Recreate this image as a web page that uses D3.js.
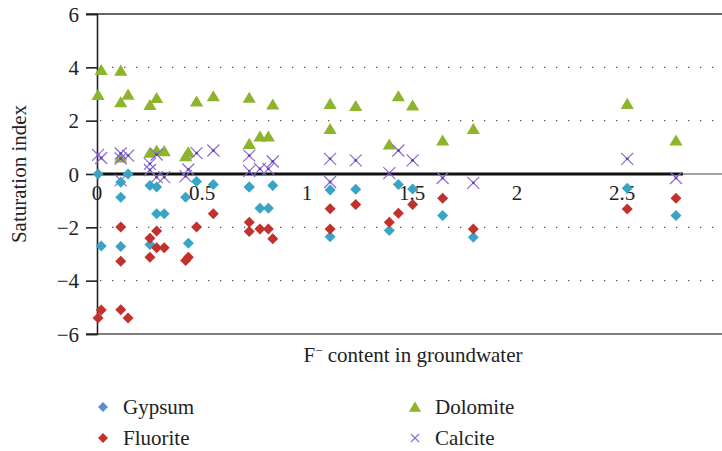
<!DOCTYPE html>
<html>
<head>
<meta charset="utf-8">
<script src="https://cdn.jsdelivr.net/npm/d3@7"></script>
<style>
  body { margin: 0; background: #fff; }
  svg { display: block; }
  text { font-family: "Liberation Serif", "DejaVu Serif", serif; fill: #222; }
</style>
</head>
<body>
<svg width="722" height="451"></svg>
<script>
// F- content of each groundwater sample
const fContent = [0.005, 0.02, 0.113, 0.113, 0.113, 0.148, 0.252, 0.252, 0.284, 0.284,
  0.32, 0.422, 0.435, 0.474, 0.554, 0.725, 0.725, 0.776, 0.816, 0.837,
  1.11, 1.11, 1.232, 1.392, 1.435, 1.503, 1.646, 1.792, 2.525, 2.757];

// saturation index per mineral
const gypsumSI = [0.0, -2.7, -0.31, -0.87, -2.72, 0.0, -0.43, -2.64, -0.49, -1.49,
  -1.49, -0.87, -2.6, -0.28, -0.39, -0.49, -0.49, -1.28, -1.28, -0.43,
  -0.6, -2.35, -0.57, -2.12, -0.39, -0.56, -1.56, -2.37, -0.53, -1.56];
const fluoriteSI = [-5.4, -5.1, -1.99, -3.27, -5.09, -5.4, -2.41, -3.12, -2.14, -2.77,
  -2.77, -3.24, -3.12, -1.99, -1.49, -1.81, -2.16, -2.06, -2.06, -2.43,
  -1.3, -2.06, -1.14, -1.81, -1.47, -1.14, -0.91, -2.06, -1.31, -0.91];
const dolomiteSI = [2.97, 3.9, 3.88, 2.69, 0.62, 2.98, 2.59, 0.8, 2.85, 0.88,
  0.86, 0.67, 0.82, 2.72, 2.92, 2.86, 1.13, 1.41, 1.41, 2.61,
  2.63, 1.69, 2.55, 1.11, 2.92, 2.57, 1.26, 1.69, 2.63, 1.26];
const calciteSI = [0.72, 0.6, 0.77, 0.58, -0.24, 0.69, 0.38, 0.15, 0.73, -0.12,
  -0.12, -0.08, 0.17, 0.78, 0.88, 0.69, 0.11, 0.19, 0.19, 0.47,
  0.57, -0.3, 0.51, 0.03, 0.88, 0.51, -0.15, -0.33, 0.57, -0.15];

const xTicks = [0, 0.5, 1, 1.5, 2, 2.5];
const yTicks = [-6, -4, -2, 0, 2, 4, 6];

const svg = d3.select("svg");
const width = +svg.attr("width");
const fs = 21;

const x = d3.scaleLinear().domain([0, 3]).range([97, 727]);
const y = d3.scaleLinear().domain([-6, 6]).range([334, 14]);

// GRID (dotted)
svg.append("g")
  .selectAll("line")
  .data([-4, -2, 2, 4])
  .join("line")
  .attr("x1", 100).attr("x2", width)
  .attr("y1", d => y(d)).attr("y2", d => y(d))
  .attr("stroke", "#555")
  .attr("stroke-width", 1.3)
  .attr("stroke-dasharray", "1.3,10.7");

// FRAME top / bottom
svg.append("line").attr("x1", 86).attr("x2", width).attr("y1", y(6)).attr("y2", y(6))
  .attr("stroke", "#333").attr("stroke-width", 1.6);
svg.append("line").attr("x1", 86).attr("x2", width).attr("y1", y(-6)).attr("y2", y(-6))
  .attr("stroke", "#555").attr("stroke-width", 1.6);

// Y AXIS
const yAxis = svg.append("g")
  .attr("transform", `translate(${x(0)},0)`)
  .call(d3.axisLeft(y).tickValues(yTicks).tickSize(11).tickPadding(7)
    .tickFormat(d => d < 0 ? "\u2212" + Math.abs(d) : d));
yAxis.select(".domain").attr("stroke", "#222").attr("stroke-width", 1.6);
yAxis.selectAll(".tick line").attr("stroke", "#222").attr("stroke-width", 1.6);
yAxis.selectAll("text")
  .attr("font-family", "'Liberation Serif', serif")
  .attr("font-size", fs)
  .attr("fill", "#222")
  .attr("dy", "0.34em");

// ZERO LINE
svg.append("line").attr("x1", x(0)).attr("x2", x(2.79)).attr("y1", y(0)).attr("y2", y(0))
  .attr("stroke", "#111").attr("stroke-width", 3.2);
svg.append("line").attr("x1", x(2.79)).attr("x2", width).attr("y1", y(0)).attr("y2", y(0))
  .attr("stroke", "#444").attr("stroke-width", 1);

// X tick labels (sit under the zero line)
svg.append("g")
  .selectAll("text")
  .data(xTicks)
  .join("text")
  .attr("x", d => x(d))
  .attr("y", 200)
  .attr("text-anchor", "middle")
  .attr("font-size", fs)
  .text(d => d);

// MARKERS
const diamond = s => `M0,${-s}L${s},0L0,${s}L${-s},0Z`;
const triangle = s => `M0,${-s}L${s * 1.1},${s * 0.85}L${-s * 1.1},${s * 0.85}Z`;

const pts = fContent.map((f, i) => ({
  f, gyp: gypsumSI[i], flu: fluoriteSI[i], dol: dolomiteSI[i], cal: calciteSI[i]
}));

svg.append("g").selectAll("path")
  .data(pts).join("path")
  .attr("transform", d => `translate(${x(d.f)},${y(d.dol)})`)
  .attr("d", triangle(6))
  .attr("fill", "#8cb52c");

const cal = svg.append("g").selectAll("g")
  .data(pts).join("g")
  .attr("transform", d => `translate(${x(d.f)},${y(d.cal)})`);
cal.append("path")
  .attr("d", "M-6,-6L6,6M-6,6L6,-6")
  .attr("stroke", "#8a6ad0")
  .attr("stroke-width", 1.2)
  .attr("fill", "none");
cal.append("circle").attr("r", 1.4).attr("fill", "#6a3fb5");

svg.append("g").selectAll("path")
  .data(pts).join("path")
  .attr("transform", d => `translate(${x(d.f)},${y(d.gyp)})`)
  .attr("d", diamond(5.5))
  .attr("fill", "#39a4c4");

svg.append("g").selectAll("path")
  .data(pts).join("path")
  .attr("transform", d => `translate(${x(d.f)},${y(d.flu)})`)
  .attr("d", diamond(5.5))
  .attr("fill", "#c1312d");

// AXIS TITLES
svg.append("text")
  .attr("transform", `translate(26,${y(0)}) rotate(-90)`)
  .attr("text-anchor", "middle")
  .attr("font-size", fs)
  .text("Saturation index");

const xt = svg.append("text")
  .attr("x", 413)
  .attr("y", 362)
  .attr("text-anchor", "middle")
  .attr("font-size", fs);
xt.append("tspan").text("F");
xt.append("tspan").attr("dy", -7).attr("font-size", 13).text("\u2212");
xt.append("tspan").attr("dy", 7).text(" content in groundwater");

// LEGEND
const legend = [
  { name: "Gypsum", kind: "diamond", color: "#5b8fd4", lx: 103, ly: 407 },
  { name: "Fluorite", kind: "diamond", color: "#c1312d", lx: 103, ly: 438 },
  { name: "Dolomite", kind: "triangle", color: "#8cb52c", lx: 415, ly: 407 },
  { name: "Calcite", kind: "cross", color: "#8a6ad0", lx: 415, ly: 438 }
];
const lg = svg.append("g").selectAll("g").data(legend).join("g")
  .attr("transform", d => `translate(${d.lx},${d.ly})`);
lg.filter(d => d.kind === "diamond").append("path").attr("d", diamond(5)).attr("fill", d => d.color);
lg.filter(d => d.kind === "triangle").append("path").attr("d", triangle(5.5)).attr("fill", d => d.color);
lg.filter(d => d.kind === "cross").append("path").attr("d", "M-4,-4L4,4M-4,4L4,-4")
  .attr("stroke", d => d.color).attr("stroke-width", 1.1);
lg.append("text")
  .attr("x", 20)
  .attr("dy", "0.35em")
  .attr("font-size", fs)
  .text(d => d.name);
</script>
</body>
</html>
